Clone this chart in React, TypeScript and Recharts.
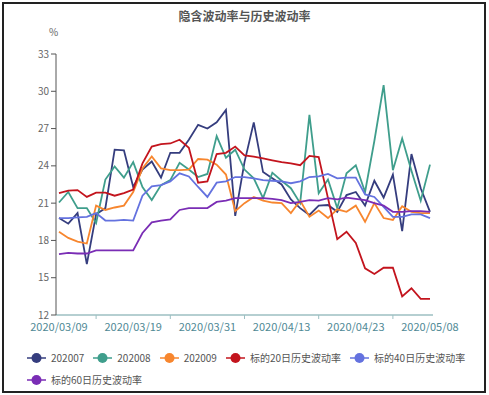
import React from 'react';
import { LineChart, Line, XAxis, YAxis } from 'recharts';

const dates = [
  '2020/03/09', '2020/03/10', '2020/03/11', '2020/03/12', '2020/03/13',
  '2020/03/16', '2020/03/17', '2020/03/18', '2020/03/19', '2020/03/20',
  '2020/03/23', '2020/03/24', '2020/03/25', '2020/03/26', '2020/03/27',
  '2020/03/30', '2020/03/31', '2020/04/01', '2020/04/02', '2020/04/03',
  '2020/04/07', '2020/04/08', '2020/04/09', '2020/04/10', '2020/04/13',
  '2020/04/14', '2020/04/15', '2020/04/16', '2020/04/17', '2020/04/20',
  '2020/04/21', '2020/04/22', '2020/04/23', '2020/04/24', '2020/04/27',
  '2020/04/28', '2020/04/29', '2020/04/30', '2020/05/06', '2020/05/07',
  '2020/05/08',
];

const iv202007 = [
  19.8, 19.35, 20.2, 16.1, 20.1, 20.6, 25.3, 25.25, 22.3, 23.7,
  24.35, 23.05, 25.05, 25.05, 26.1, 27.3, 27.0, 27.5, 28.5, 19.97,
  24.3, 27.5, 23.5, 23.0, 22.5, 21.3, 20.6, 20.05, 20.8, 20.85,
  20.3, 21.65, 21.9, 20.8, 22.8, 21.45, 23.3, 18.75, 24.95, 22.2,
  20.3,
];

const iv202008 = [
  21.05, 21.9, 20.6, 20.6, 19.4, 22.9, 23.95, 23.05, 24.3, 22.3,
  21.25, 22.45, 22.85, 24.25, 23.7, 23.1, 23.35, 26.4, 24.65, 25.3,
  23.7, 23.0, 21.4, 23.45, 22.8, 22.2, 21.0, 28.1, 21.8, 22.9,
  20.6, 23.4, 24.05, 21.9, 26.0, 30.5, 23.65, 26.2, 23.6, 21.2,
  24.1,
];

const iv202009 = [
  18.7, 18.2, 17.9, 17.75, 20.8, 20.45, 20.65, 20.8, 21.9, 23.8,
  24.75, 23.8, 23.65, 23.65, 23.7, 24.55, 24.5, 24.1, 23.3, 20.35,
  21.0, 21.5, 21.2, 21.05, 21.0, 20.2, 21.2, 19.9, 20.4, 19.8,
  20.5, 20.3, 20.8, 19.5, 21.0, 19.8, 19.65, 20.75, 20.3, 20.2,
  20.2,
];

const hv20 = [
  21.8, 22.0, 22.05, 21.5, 21.85, 21.85, 21.6, 21.8, 22.1, 24.2,
  25.55, 25.75, 25.8, 26.1, 25.45, 22.65, 22.75, 24.95, 25.05, 25.55,
  24.85, 24.75, 24.6, 24.45, 24.3, 24.2, 24.05, 24.8, 24.7, 21.4,
  18.1, 18.7, 17.8, 15.75, 15.3, 15.8, 15.8, 13.5, 14.15, 13.3,
  13.3,
];

const hv40 = [
  19.8, 19.8, 19.85, 19.9, 20.2, 19.6, 19.6, 19.65, 19.6, 21.6,
  22.35, 22.45, 22.75, 23.4, 23.15, 22.3, 21.5, 22.65, 22.75, 23.1,
  23.1, 23.0, 22.85, 22.8, 22.75, 22.6, 22.75, 23.1, 23.15, 23.35,
  23.0, 23.05, 23.05, 21.7, 21.5, 20.7, 19.9, 19.9, 20.1, 20.1,
  19.8,
];

const hv60 = [
  16.9, 17.0, 16.95, 16.95, 17.2, 17.2, 17.2, 17.2, 17.2, 18.6,
  19.45, 19.6, 19.7, 20.45, 20.6, 20.6, 20.6, 21.1, 21.2, 21.4,
  21.4, 21.4, 21.4, 21.35, 21.25, 21.0, 21.1, 21.25, 21.2, 21.4,
  21.3, 21.45, 21.35, 21.25, 21.0, 20.8, 20.3, 20.3, 20.35, 20.35,
  20.3,
];

const yTicks = [12, 15, 18, 21, 24, 27, 30, 33];

const seriesNames = ['202007', '202008', '202009', '标的20日历史波动率', '标的40日历史波动率', '标的60日历史波动率'];
const seriesColors = ['#353d7e', '#3f9e8c', '#f7862e', '#c3141d', '#6472df', '#7a2db5'];
const seriesValues = [iv202007, iv202008, iv202009, hv20, hv40, hv60];

const data = dates.map((d, i) => {
  const row: Record<string, string | number> = { date: d };
  seriesValues.forEach((vals, k) => { row['s' + k] = vals[i]; });
  return row;
});

const FONT = '"Noto Sans CJK SC", "Noto Sans", sans-serif';
const PLOT_BOTTOM = 315;

// labels every 8 trading days, tick marks half way between them
const DateTick = (props: any) => {
  const { x, payload } = props;
  const i = dates.indexOf(payload.value);
  if (i % 8 === 0) {
    return (
      <text x={x} y={PLOT_BOTTOM + 16} textAnchor="middle" fill="#4f8995" fontSize={11} fontFamily={FONT}>
        {payload.value}
      </text>
    );
  }
  if (i % 8 === 4) {
    return <line x1={x} x2={x} y1={PLOT_BOTTOM} y2={PLOT_BOTTOM + 4} stroke="#9cbfc2" />;
  }
  return <g />;
};

const LegendIcon = ({ color }: { color: string }) => (
  <svg width={19} height={12} style={{ display: 'block' }}>
    <line x1={0} x2={19} y1={6} y2={6} stroke={color} strokeWidth={1.5} />
    <circle cx={9.5} cy={6} r={5} fill={color} />
  </svg>
);

const LegendRow = ({ from, to }: { from: number; to: number }) => (
  <div style={{ display: 'flex', flexWrap: 'nowrap', columnGap: 9, height: 16, alignItems: 'center' }}>
    {seriesNames.slice(from, to).map((name, j) => (
      <div key={name} style={{ display: 'flex', alignItems: 'center', gap: 5, whiteSpace: 'nowrap' }}>
        <LegendIcon color={seriesColors[from + j]} />
        <span>{name}</span>
      </div>
    ))}
  </div>
);

export default function App() {
  return (
    <div style={{ position: 'absolute', left: 0, top: 0, width: 489, height: 395, background: '#fff', fontFamily: FONT }}>
      <div style={{ position: 'absolute', left: 2, top: 2, width: 484, height: 391, border: '2px solid #222', boxSizing: 'border-box' }} />
      <div style={{ position: 'absolute', left: 0, top: 7, width: 489, textAlign: 'center', fontSize: 12, fontWeight: 'bold', color: '#555' }}>
        隐含波动率与历史波动率
      </div>
      <div style={{ position: 'absolute', left: 49, top: 24, fontSize: 10, color: '#666' }}>%</div>
      <div style={{ position: 'absolute', left: 0, top: 0 }}>
        <LineChart width={489} height={395} data={data} margin={{ top: 54, right: 56, bottom: 50, left: 16 }}>
          <XAxis
            dataKey="date"
            interval={0}
            height={30}
            tickSize={0}
            tickMargin={0}
            tickLine={false}
            tick={<DateTick />}
            padding={{ left: 3, right: 3 }}
            axisLine={{ stroke: '#9cbfc2', strokeWidth: 1.5 }}
          />
          <YAxis
            domain={[12, 33]}
            ticks={yTicks}
            width={40}
            tickSize={5}
            tickMargin={2}
            allowDataOverflow
            axisLine={{ stroke: '#555' }}
            tickLine={{ stroke: '#555' }}
            tick={{ fill: '#666', fontSize: 10, fontFamily: FONT }}
          />
          {seriesNames.map((name, k) => (
            <Line
              key={name}
              type="linear"
              dataKey={'s' + k}
              name={name}
              stroke={seriesColors[k]}
              strokeWidth={1.8}
              dot={false}
              isAnimationActive={false}
            />
          ))}
        </LineChart>
      </div>
      <div
        style={{
          position: 'absolute', left: 27, top: 350,
          display: 'flex', flexDirection: 'column', rowGap: 6,
          fontSize: 10, color: '#555', lineHeight: '16px',
        }}
      >
        <LegendRow from={0} to={5} />
        <LegendRow from={5} to={6} />
      </div>
    </div>
  );
}
